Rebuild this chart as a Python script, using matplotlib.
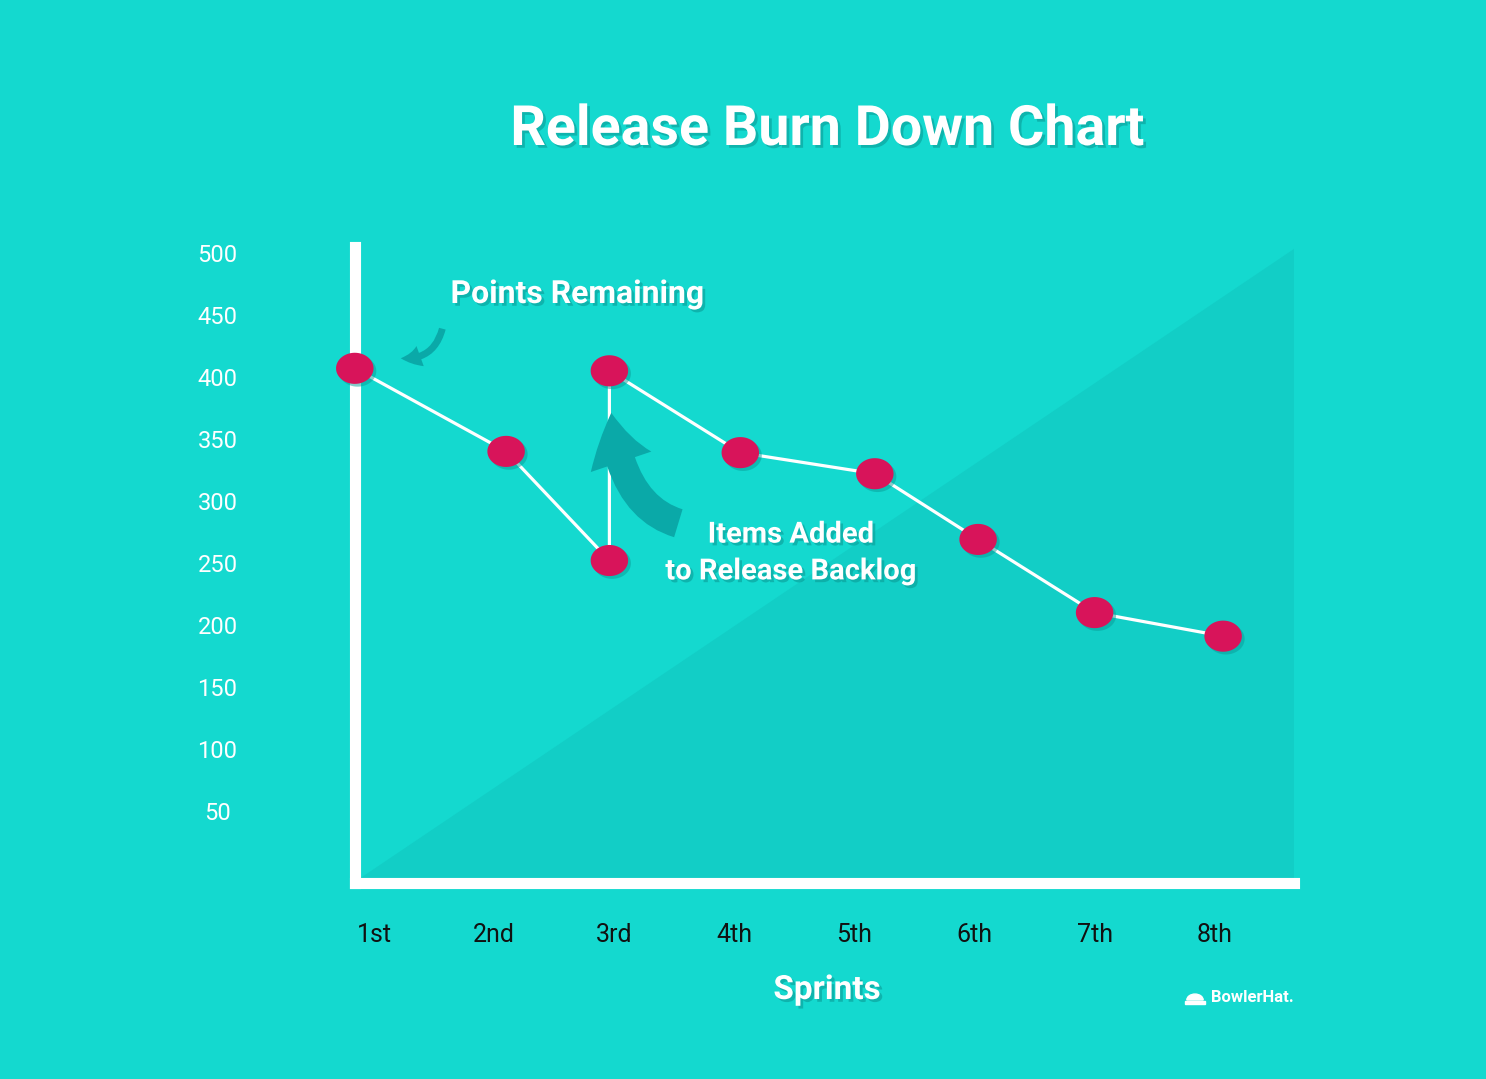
import numpy as np
import matplotlib
matplotlib.use("Agg")
import matplotlib.pyplot as plt
import matplotlib.patheffects as pe
from matplotlib.patches import FancyArrowPatch, Polygon, Wedge, Rectangle
from matplotlib.path import Path

# ------------------------------------------------------------------
# data
# ------------------------------------------------------------------
SPRINTS = ["1st", "2nd", "3rd", "4th", "5th", "6th", "7th", "8th"]
Y_TICKS = [50, 100, 150, 200, 250, 300, 350, 400, 450, 500]

# marker positions (sprint index, points remaining); the 3rd sprint has two
point_x = [0.84, 2.10, 2.96, 2.96, 4.05, 5.17, 6.03, 7.00, 8.07]
points_remaining = [407, 340, 252, 405, 339, 322, 269, 210, 191]

BG = "#14d9cf"
TRI = "#12cec6"
ARROW = "#0aa9a8"
DOT = "#d8145a"
SHADOW = "#0a9c97"

plt.rcParams["font.family"] = ["Roboto", "DejaVu Sans"]

fig = plt.figure(figsize=(14.86, 10.79), dpi=100)
fig.patch.set_facecolor(BG)

W, H = 1486, 1079
left_px, right_px, bottom_px, top_px = 355, 1294, 883, 247
ax = fig.add_axes([left_px / W, 1 - bottom_px / H,
                   (right_px - left_px) / W, (bottom_px - top_px) / H])
ax.set_facecolor("none")

# x: tick s centered at 374 + (s-1)*120.1 px ; y: 0 at 873 px, 62 px per 50
x0 = 1 + (left_px - 374) / 120.1
x1 = 1 + (right_px - 374) / 120.1
y0 = (873 - bottom_px) / 62 * 50
y1 = (873 - top_px) / 62 * 50
ax.set_xlim(x0, x1)
ax.set_ylim(y0, y1)

# darker triangle in the background
tri = Polygon([(0.006, 0.008), (1.0, 0.997), (1.0, 0.008)], closed=True,
              transform=ax.transAxes, facecolor=TRI, edgecolor="none", zorder=0)
ax.add_patch(tri)

# axes lines
for side in ["top", "right"]:
    ax.spines[side].set_visible(False)
for side in ["left", "bottom"]:
    ax.spines[side].set_color("white")
    ax.spines[side].set_linewidth(8)
    ax.spines[side].set_capstyle("projecting")
    ax.spines[side].set_zorder(1)

ax.set_xticks(range(1, len(SPRINTS) + 1))
ax.set_xticklabels(SPRINTS)
ax.set_yticks(Y_TICKS)
ax.set_yticklabels([str(v) for v in Y_TICKS])
ax.tick_params(axis="both", length=0)
ax.tick_params(axis="x", pad=29, labelsize=18, labelcolor="#111111")
ax.tick_params(axis="y", pad=99, labelsize=17, labelcolor="white")
for lab in ax.get_yticklabels():
    lab.set_horizontalalignment("center")

# burn down line
ax.plot(point_x, points_remaining, color="white", lw=2.3, zorder=3,
        solid_capstyle="round", clip_on=False)

# elliptic markers
t = np.linspace(0, 2 * np.pi, 60)
ellipse = Path(np.column_stack([np.cos(t), 0.83 * np.sin(t)]), closed=True)
ax.plot(point_x, points_remaining, ls="none", marker=ellipse, ms=27,
        mfc=DOT, mec="none", zorder=4, clip_on=False,
        path_effects=[pe.SimplePatchShadow(offset=(2, -2), shadow_rgbFace=SHADOW, alpha=0.5),
                      pe.Normal()])

# arrows
small = FancyArrowPatch((443 / W, 1 - 326 / H), (398 / W, 1 - 358 / H),
                        transform=fig.transFigure,
                        connectionstyle="arc3,rad=-0.45",
                        arrowstyle="simple,head_width=1.1,head_length=1.0,tail_width=0.35",
                        mutation_scale=14, color=ARROW, lw=0, zorder=5)
fig.patches.append(small)

big = FancyArrowPatch((681 / W, 1 - 524 / H), (611 / W, 1 - 410 / H),
                      transform=fig.transFigure,
                      connectionstyle="angle3,angleA=165,angleB=95",
                      arrowstyle="simple,head_width=2.3,head_length=1.8,tail_width=1.05",
                      mutation_scale=20, color=ARROW, lw=0, zorder=2)
fig.patches.append(big)

# texts
shadow_fx = [pe.SimplePatchShadow(offset=(2, -2), shadow_rgbFace=SHADOW, alpha=0.6), pe.Normal()]
bold = ["Roboto", "DejaVu Sans"]

fig.text(827 / W, 1 - 130 / H, "Release Burn Down Chart", ha="center", va="center",
         color="white", fontsize=40, fontweight="bold", family=bold,
         path_effects=shadow_fx)
fig.text(578 / W, 1 - 294 / H, "Points Remaining", ha="center", va="center",
         color="white", fontsize=23, fontweight="bold", family=bold,
         path_effects=shadow_fx)
fig.text(791 / W, 1 - 553 / H, "Items Added\nto Release Backlog", ha="center",
         va="center", color="white", fontsize=21, fontweight="bold", family=bold,
         linespacing=1.4, path_effects=shadow_fx)
fig.text(827 / W, 1 - 990 / H, "Sprints", ha="center", va="center",
         color="white", fontsize=24, fontweight="bold", family=bold,
         path_effects=shadow_fx)

# BowlerHat logo
fig.text(1211 / W, 1 - 998 / H, "BowlerHat.", ha="left", va="center",
         color="white", fontsize=12, fontweight="bold", family=bold)
fig.patches.append(Wedge((1195 / W, 1 - 1000 / H), 0.0055, 0, 180,
                         transform=fig.transFigure, color="white"))
fig.patches.append(Rectangle((1185 / W, 1 - 1004 / H), 20 / W, 3 / H,
                             transform=fig.transFigure, color="white"))

fig.savefig("out.png", dpi=100, facecolor=BG)
